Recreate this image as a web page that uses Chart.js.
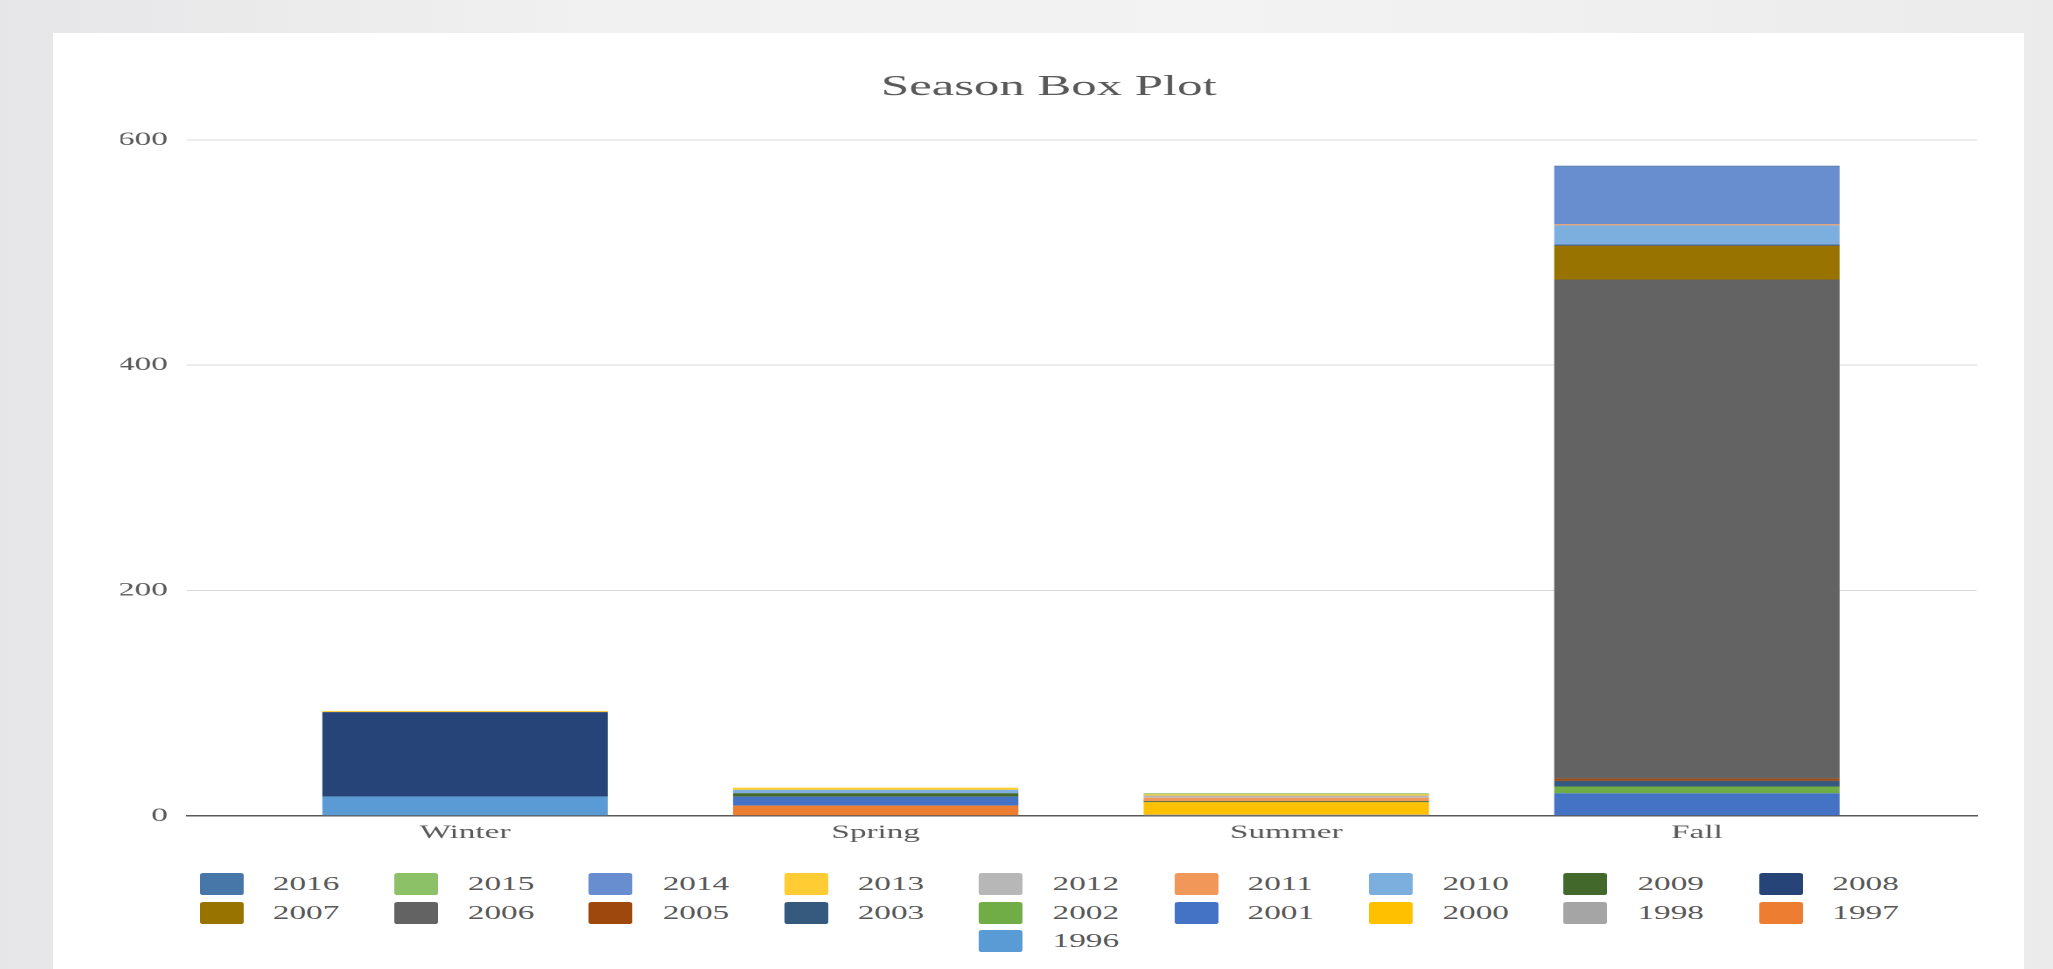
<!DOCTYPE html>
<html>
<head>
<meta charset="utf-8">
<script src="https://cdn.jsdelivr.net/npm/chart.js@4.4.1/dist/chart.umd.min.js"></script>
<style>
  html, body { margin: 0; padding: 0; }
  body {
    width: 2053px; height: 969px; overflow: hidden; position: relative;
    background: linear-gradient(90deg, #e6e6e8 0%, #f1f1f1 30%, #f4f3f3 60%, #ebebeb 100%);
  }
  /* the reference is stretched sideways, so the card is drawn narrow and scaled */
  #card {
    position: absolute; left: 53px; top: 33px;
    width: 1126px; height: 936px; background: #fff;
    transform: scaleX(1.75); transform-origin: left top;
  }
  #chartBox { position: absolute; left: 0; top: 0; width: 1126px; height: 830px; }
  #legenda {
    position: absolute; left: 83.4px; top: 837px; width: 1003px;
    display: flex; flex-wrap: wrap; justify-content: center;
    font-family: "Liberation Serif", serif; font-size: 19px; color: #595959;
  }
  .item { width: 111.4px; height: 28.5px; display: flex; align-items: center; }
  .caixa { width: 25px; height: 22px; border-radius: 2px; margin-right: 17px; flex: none; }
</style>
</head>
<body>
<div id="card">
  <div id="chartBox"><canvas id="grafico"></canvas></div>
  <div id="legenda"></div>
</div>
<script>
const seasons = ["Winter", "Spring", "Summer", "Fall"];

// one array per year: Winter, Spring, Summer, Fall
const y1996 = [17, 0, 0, 0];
const y1997 = [0, 9, 0, 0];
const y1998 = [0, 0, 1, 0];
const y2000 = [0, 0, 11, 0];
const y2001 = [0, 8, 0, 20];
const y2002 = [0, 0, 0, 6];
const y2003 = [0, 0, 0, 5];
const y2005 = [0, 0, 0, 2];
const y2006 = [0, 0, 0, 443];
const y2007 = [0, 0, 0, 30];
const y2008 = [75, 0, 0, 1];
const y2009 = [0, 3, 1, 0];
const y2010 = [0, 3, 0, 17];
const y2011 = [0, 0, 3, 1];
const y2012 = [0, 0, 2, 0];
const y2013 = [1, 2, 1, 0];
const y2014 = [0, 0, 0, 51];
const y2015 = [0, 0, 1, 0];
const y2016 = [0, 0, 0, 1];

const years = ["1996", "1997", "1998", "2000", "2001", "2002", "2003", "2005", "2006", "2007",
               "2008", "2009", "2010", "2011", "2012", "2013", "2014", "2015", "2016"];
const values = [y1996, y1997, y1998, y2000, y2001, y2002, y2003, y2005, y2006, y2007,
                y2008, y2009, y2010, y2011, y2012, y2013, y2014, y2015, y2016];
const colors = ["#5B9BD5", "#ED7D31", "#A5A5A5", "#FFC000", "#4472C4", "#70AD47", "#36597E", "#9E480E", "#636363", "#997300",
                "#264478", "#43682B", "#7CAFDD", "#F1975A", "#B7B7B7", "#FFCD33", "#698ED0", "#8CC168", "#4677A8"];

Chart.defaults.font.family = "'Liberation Serif', serif";
Chart.defaults.color = "#595959";

const datasets = years.map((ano, i) => ({
  label: ano,
  data: seasons.map((s, j) => ({ x: j, y: values[i][j] })),
  backgroundColor: colors[i],
  borderWidth: 0
}));

const grafico = new Chart(document.getElementById("grafico"), {
  type: "bar",
  data: { datasets },
  options: {
    responsive: true,
    maintainAspectRatio: false,
    animation: false,
    devicePixelRatio: 2,
    categoryPercentage: 1,
    barPercentage: 0.695,
    layout: { padding: { left: 38.6, right: 26.6, top: 20, bottom: 12.4 } },
    plugins: {
      legend: { display: false },
      tooltip: { enabled: false },
      title: {
        display: true,
        text: "Season Box Plot",
        font: { size: 29, weight: "normal" },
        color: "#595959",
        padding: { top: 17, bottom: 35 }
      }
    },
    scales: {
      x: {
        type: "linear",
        min: -0.677,
        max: 3.682,
        stacked: true,
        offset: false,
        grid: { display: false, drawTicks: false },
        border: { display: true, color: "#595959", width: 1.5 },
        ticks: {
          stepSize: 1,
          includeBounds: false,
          autoSkip: false,
          maxRotation: 0,
          padding: 6,
          font: { size: 19 },
          callback: v => seasons[v] ?? ""
        },
        afterBuildTicks: s => {
          s.ticks = s.ticks.filter(t => Number.isInteger(t.value) && t.value >= 0 && t.value < seasons.length);
        }
      },
      y: {
        stacked: true,
        min: 0,
        max: 600,
        grid: { color: "#d9d9d9", lineWidth: 1, drawTicks: false },
        border: { display: false },
        ticks: { stepSize: 200, padding: 11, font: { size: 19 } },
        afterFit: s => { s.width = 38; }
      }
    }
  }
});

/* legenda em HTML, 2016 primeiro */
function montarLegenda() {
  const caixa = document.getElementById("legenda");
  caixa.innerHTML = "";
  [...grafico.data.datasets].reverse().forEach(ds => {
    const item = document.createElement("div");
    item.className = "item";
    item.innerHTML = `<span class="caixa" style="background:${ds.backgroundColor}"></span><span>${ds.label}</span>`;
    caixa.appendChild(item);
  });
}
montarLegenda();
</script>
</body>
</html>
